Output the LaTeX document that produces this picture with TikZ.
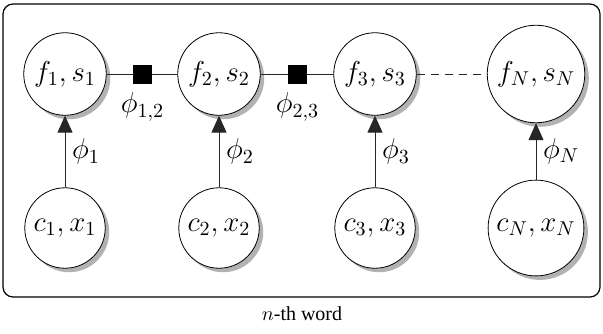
\documentclass[tikz,border=0pt]{standalone}
\usepackage[no-math]{fontspec}
\setmainfont{Liberation Serif}
\usetikzlibrary{arrows.meta,shadows,positioning}
\begin{document}
\begin{tikzpicture}[x=0.5pt,y=-0.5pt,
  var/.style={circle,draw,fill=white,minimum size=39.5pt,inner sep=3pt,font=\Large,
    drop shadow={shadow xshift=2pt,shadow yshift=-2pt,fill=black!30,opacity=1}},
  fac/.style={rectangle,fill=black,minimum size=9.5pt,inner sep=0pt},
  edge/.style={draw=black!85,line width=0.5pt},
  arr/.style={edge,-{Triangle[length=8.5pt,width=7.5pt]}},
  lbl/.style={font=\Large}]
\useasboundingbox (0,0) rectangle (603,333);
\draw[rounded corners=5pt, line width=0.6pt] (3,4) rectangle (600,297);
% top row
\node[var] (f1) at (65,74) {$f_1, s_1$};
\node[var] (f2) at (219,74) {$f_2, s_2$};
\node[var] (f3) at (375,74) {$f_3, s_3$};
\node[var] (fN) at (536,74) {$f_N, s_N$};
% bottom row
\node[var] (c1) at (65,228) {$c_1, x_1$};
\node[var] (c2) at (219,228) {$c_2, x_2$};
\node[var] (c3) at (375,228) {$c_3, x_3$};
\node[var] (cN) at (536,228) {$c_N, x_N$};
% factors
\node[fac] (s12) at (142.5,74) {};
\node[fac] (s23) at (297.5,74) {};
\node[lbl,below=1pt of s12] (l12) {$\phi_{1,2}$};
\node[lbl,below=1pt of s23] (l23) {$\phi_{2,3}$};
% edges
\draw[edge] (f1) -- (s12) -- (f2) -- (s23) -- (f3);
\draw[edge,dash pattern=on 4pt off 3pt] (f3) -- (fN);
\draw[arr] (c1) -- (f1) node[lbl,midway,right] {$\phi_1$};
\draw[arr] (c2) -- (f2) node[lbl,midway,right] {$\phi_2$};
\draw[arr] (c3) -- (f3) node[lbl,midway,right] {$\phi_3$};
\draw[arr] (cN) -- (fN) node[lbl,midway,right] {$\phi_N$};
\node (cap) at (302,314) {$n$-th word};
\end{tikzpicture}
\end{document}
